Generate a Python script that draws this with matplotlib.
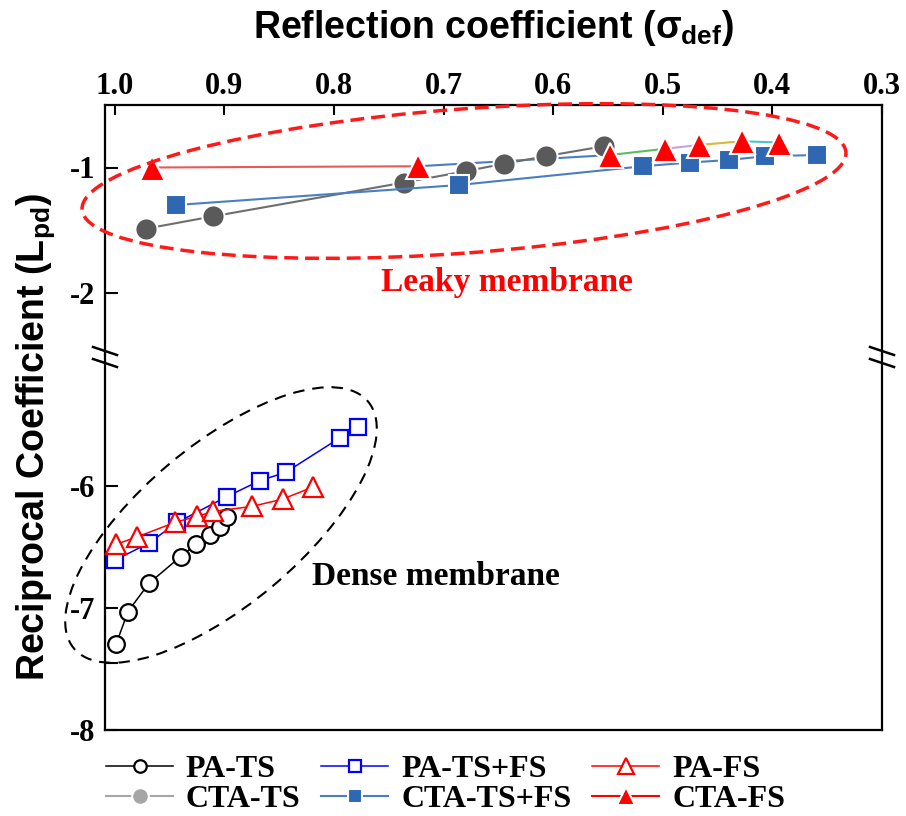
import matplotlib
matplotlib.use("Agg")
import matplotlib.pyplot as plt
from matplotlib.patches import Ellipse
from matplotlib.lines import Line2D

plt.rcParams['axes.unicode_minus'] = False
plt.rcParams['font.family'] = 'Liberation Serif'
plt.rcParams['font.weight'] = 'bold'
plt.rcParams['mathtext.fontset'] = 'custom'
plt.rcParams['mathtext.rm'] = 'Liberation Sans:bold'
plt.rcParams['mathtext.it'] = 'Liberation Sans:bold'
plt.rcParams['mathtext.bf'] = 'Liberation Sans:bold'

# dense membranes (lower panel)
pa_ts_x = [0.999, 0.988, 0.969, 0.940, 0.926, 0.913, 0.904, 0.898]
pa_ts_y = [-7.30, -7.03, -6.80, -6.58, -6.48, -6.40, -6.34, -6.26]
pa_tsfs_x = [1.000, 0.969, 0.943, 0.898, 0.868, 0.844, 0.795, 0.778]
pa_tsfs_y = [-6.61, -6.47, -6.30, -6.09, -5.96, -5.89, -5.61, -5.52]
pa_fs_x = [0.999, 0.980, 0.945, 0.925, 0.910, 0.875, 0.847, 0.819]
pa_fs_y = [-6.48, -6.42, -6.30, -6.25, -6.21, -6.17, -6.11, -6.01]

# leaky membranes (upper panel)
cta_ts_x = [0.972, 0.910, 0.736, 0.680, 0.645, 0.607, 0.554]
cta_ts_y = [-1.49, -1.39, -1.12, -1.03, -0.97, -0.91, -0.83]
cta_tsfs_x = [0.944, 0.686, 0.518, 0.475, 0.440, 0.407, 0.359]
cta_tsfs_y = [-1.30, -1.14, -0.99, -0.96, -0.94, -0.91, -0.90]
cta_fs_x = [0.966, 0.723, 0.548, 0.498, 0.467, 0.428, 0.394]
cta_fs_y = [-1.00, -0.99, -0.90, -0.85, -0.82, -0.79, -0.80]
# excel coloured each segment of the CTA-FS line differently
cta_fs_seg_colors = ['#E8595A', '#4A7EC2', '#5DBB63', '#C9A0E0', '#E0B33A', '#4BC4D0']

x_ticks = [1.0, 0.9, 0.8, 0.7, 0.6, 0.5, 0.4, 0.3]
y_ticks_up = [-1, -2]
y_ticks_lo = [-6, -7, -8]

W, H = 906, 816
fig = plt.figure(figsize=(W / 100, H / 100), dpi=100)

left, right, top, brk, bottom = 105, 882, 105, 355, 730
ax_up = fig.add_axes([left / W, 1 - brk / H, (right - left) / W, (brk - top) / H])
ax_lo = fig.add_axes([left / W, 1 - bottom / H, (right - left) / W, (bottom - brk) / H])

for ax in (ax_up, ax_lo):
    ax.set_xlim(1.009, 0.3)
    for s in ax.spines.values():
        s.set_linewidth(1.6)
    ax.tick_params(axis='y', direction='in', length=9, width=1.5, pad=7, labelsize=22, right=False)
ax_up.set_ylim(-2.5, -0.5)
ax_lo.set_ylim(-8, -4.93)
ax_up.spines['bottom'].set_visible(False)
ax_lo.spines['top'].set_visible(False)

ax_up.set_xticks(x_ticks)
ax_up.tick_params(axis='x', top=True, bottom=False, labeltop=True, labelbottom=False,
                  direction='in', length=7, width=1.5, pad=3, labelsize=22)
ax_lo.tick_params(axis='x', top=False, bottom=False, labelbottom=False)
ax_up.set_yticks(y_ticks_up)
ax_lo.set_yticks(y_ticks_lo)
ax_lo.set_yticks([-7.45], minor=True)
ax_lo.tick_params(axis='y', which='minor', direction='in', length=9, width=1.5)

ax_up.xaxis.set_label_position('top')
ax_up.set_xlabel(r'Reflection coefficient ($\sigma_{def}$)', family='Liberation Sans',
                 weight='bold', fontsize=27, labelpad=24)
fig.text(36 / W, 1 - 437 / H, r'Reciprocal Coefficient (L$_{pd}$)', family='Liberation Sans',
         weight='bold', fontsize=27, rotation=90, ha='center', va='center')

# lower panel, open markers
h_pa_ts, = ax_lo.plot(pa_ts_x, pa_ts_y, '-o', color='black', lw=1.1, ms=12,
                      mfc='white', mec='black', mew=1.6, label='PA-TS', zorder=3)
h_pa_tsfs, = ax_lo.plot(pa_tsfs_x, pa_tsfs_y, '-s', color='#0000FF', lw=1.1, ms=11,
                        mfc='white', mec='#0000FF', mew=1.6, label='PA-TS+FS', zorder=3)
h_pa_fs, = ax_lo.plot(pa_fs_x, pa_fs_y, '-^', color='#FF0000', lw=1.1, ms=15,
                      mfc='white', mec='#FF0000', mew=1.6, label='PA-FS', zorder=3)

# upper panel, filled markers
h_cta_ts, = ax_up.plot(cta_ts_x, cta_ts_y, '-o', color='#6E6E6E', lw=1.5, ms=16,
                       mfc='#5A5A5A', mec='white', mew=1.5, label='CTA-TS', zorder=3)
h_cta_tsfs, = ax_up.plot(cta_tsfs_x, cta_tsfs_y, '-s', color='#4A7EC2', lw=1.5, ms=14,
                         mfc='#2F67B2', mec='white', mew=1.5, label='CTA-TS+FS', zorder=3)
for i in range(len(cta_fs_x) - 1):
    ax_up.plot(cta_fs_x[i:i + 2], cta_fs_y[i:i + 2], color=cta_fs_seg_colors[i], lw=1.5, zorder=2)
h_cta_fs, = ax_up.plot(cta_fs_x, cta_fs_y, '^', ls='none', ms=18, mfc='#FF0000',
                       mec='white', mew=1.5, color='#FF0000', label='CTA-FS', zorder=4)

for ax in (ax_up, ax_lo):
    for ln in ax.lines:
        ln.set_clip_on(False)

# group ellipses (drawn in inches so the tilt is not skewed by the axes aspect)
fig.add_artist(Ellipse((4.64, 6.35), 7.66, 1.44, angle=4.3, transform=fig.dpi_scale_trans,
                       fill=False, ec='#FF1A1A', lw=2.5, ls=(0, (4, 2)), zorder=5))
fig.add_artist(Ellipse((2.21, 2.91), 3.84, 1.60, angle=40, transform=fig.dpi_scale_trans,
                       fill=False, ec='black', lw=1.5, ls=(0, (5.5, 3.8)), zorder=5))
ax_up.text(0.642, -1.92, 'Leaky membrane', color='#FF0000', fontsize=24,
           ha='center', va='center')
ax_lo.text(0.707, -6.74, 'Dense membrane', color='black', fontsize=24,
           ha='center', va='center')

# axis break marks on both side spines
for xs in (left, right):
    for yc in (351, 363):
        fig.add_artist(Line2D([(xs - 12) / W, (xs + 12) / W],
                              [1 - (yc - 4) / H, 1 - (yc + 4) / H],
                              transform=fig.transFigure, color='black', lw=1.8))

handles = [h_pa_ts, h_cta_ts, h_pa_tsfs, h_cta_tsfs, h_pa_fs, h_cta_fs]
leg = fig.legend(handles, [h.get_label() for h in handles], ncol=3, loc='upper left',
                 bbox_to_anchor=(106 / W, 1 - 755 / H), frameon=False, fontsize=23,
                 handlelength=2.1, handletextpad=0.4, columnspacing=0.65,
                 labelspacing=0.0, borderpad=0, borderaxespad=0, markerscale=0.75)
lh = leg.legend_handles
lh[1].set_color('#A6A6A6')
lh[1].set_markerfacecolor('#A6A6A6')
lh[5].set_linestyle('-')
lh[5].set_color('#FF0000')

fig.savefig('out.png', dpi=100)
